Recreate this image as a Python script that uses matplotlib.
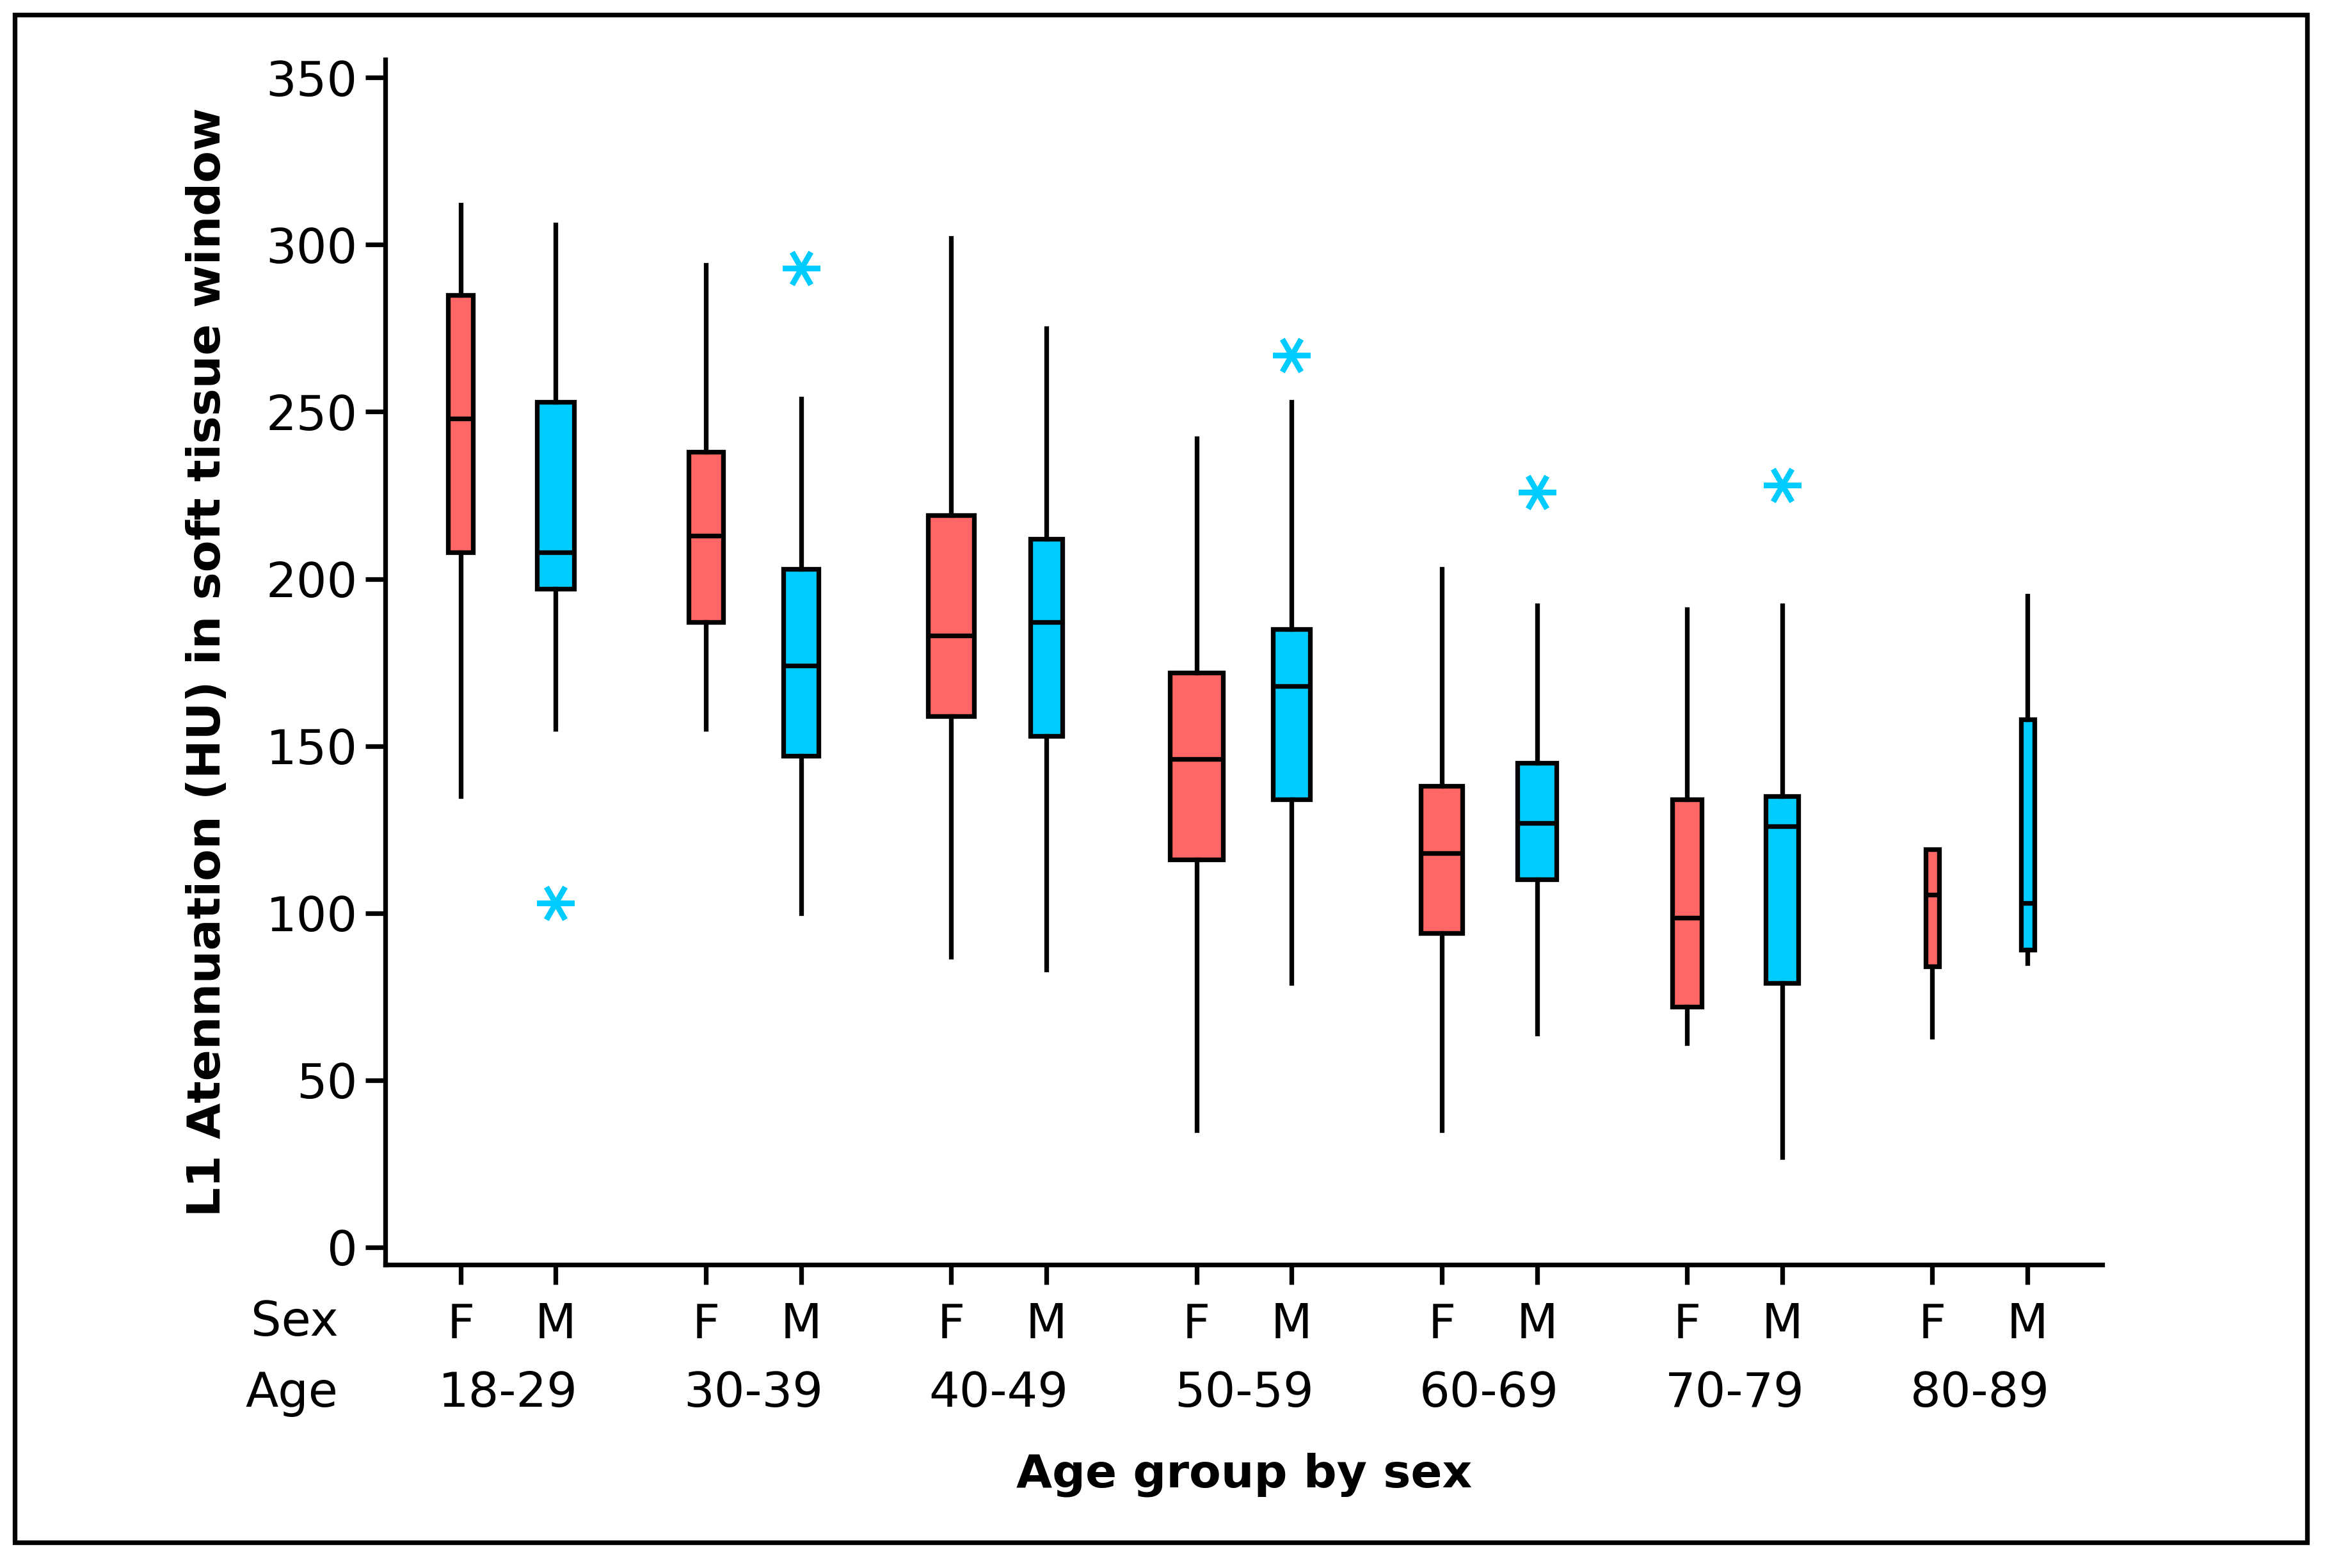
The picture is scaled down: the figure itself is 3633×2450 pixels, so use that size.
import matplotlib.pyplot as plt
from matplotlib.patches import Rectangle
import matplotlib.transforms as mtransforms

# Dados (ordem: F, M em cada faixa etária)
idades = ['18-29', '30-39', '40-49', '50-59', '60-69', '70-79', '80-89']
sexos = ['F', 'M']
bigode_sup = [312, 306, 294, 254, 302, 275, 242, 253, 203, 192, 191, 192, 119, 195]
q3 = [285, 253, 238, 203, 219, 212, 172, 185, 138, 145, 134, 135, 119, 158]
mediana = [248, 208, 213, 174, 183, 187, 146, 168, 118, 127, 98.5, 126, 105.5, 103]
q1 = [208, 197, 187, 147, 159, 153, 116, 134, 94, 110, 72, 79, 84, 89]
bigode_inf = [135, 155, 155, 100, 87, 83, 35, 79, 35, 64, 61, 27, 63, 85]
outliers = [[], [103], [], [293], [], [], [], [267], [], [226], [], [228], [], []]
# largura das caixas (proporcional ao tamanho da amostra)
larguras = [0.103, 0.151, 0.139, 0.145, 0.188, 0.133, 0.218, 0.151, 0.169, 0.157, 0.121, 0.133, 0.054, 0.054]

cores = {'F': '#FF6666', 'M': '#00CCFF'}
fonte = 'DejaVu Sans'
tam = 18
tam_titulo = 17.4

plt.rcParams['font.family'] = fonte

W, H = 1568, 1057.4  # escala de referência usada nas medidas
fig = plt.figure(figsize=(3633 / 300, 2450 / 300), dpi=300)
ax = fig.add_axes([260 / W, 1 - 853 / H, (1418 - 260) / W, (853 - 40) / H])

posicoes = []
rotulos = []
for g in range(len(idades)):
    for s, desl in zip(sexos, [-0.194, 0.194]):
        posicoes.append(g + desl)
        rotulos.append(s)

stats = []
for i in range(len(posicoes)):
    stats.append({'med': mediana[i], 'q1': q1[i], 'q3': q3[i],
                  'whislo': bigode_inf[i], 'whishi': bigode_sup[i],
                  'fliers': outliers[i]})

lw = 1.75
bp = ax.bxp(stats, positions=posicoes, widths=larguras, patch_artist=True,
            showcaps=False,
            boxprops=dict(linewidth=lw, edgecolor='black'),
            medianprops=dict(color='black', linewidth=lw),
            whiskerprops=dict(color='black', linewidth=lw),
            flierprops=dict(marker=(6, 2, 90), markersize=14, markeredgewidth=2.0,
                            markeredgecolor=cores['M'], linestyle='none'))

for caixa, s in zip(bp['boxes'], rotulos):
    caixa.set_facecolor(cores[s])
for fl, s in zip(bp['fliers'], rotulos):
    fl.set_markeredgecolor(cores[s])

ax.set_xlim(-0.5, 6.5)
ax.set_ylim(-5.3, 355.5)
ax.set_yticks(range(0, 351, 50))
ax.set_xticks(posicoes)
ax.set_xticklabels(rotulos)

ax.spines['top'].set_visible(False)
ax.spines['right'].set_visible(False)
for lado in ['left', 'bottom']:
    ax.spines[lado].set_linewidth(lw)

ax.tick_params(axis='y', direction='out', length=7.5, width=lw, labelsize=tam, pad=3)
ax.tick_params(axis='x', direction='out', length=7.5, width=lw, labelsize=tam, pad=6.3)

trans = mtransforms.blended_transform_factory(ax.transData, ax.transAxes)
for g, idade in enumerate(idades):
    ax.text(g, -0.107, idade, transform=trans, ha='center', va='center', fontsize=tam)

ax.text(-0.0276, -0.048, 'Sex', transform=ax.transAxes, ha='right', va='center', fontsize=tam)
ax.text(-0.0276, -0.107, 'Age', transform=ax.transAxes, ha='right', va='center', fontsize=tam)

ax.text(0.5, -0.174, 'Age group by sex', transform=ax.transAxes, ha='center', va='center',
        fontsize=tam_titulo, fontweight='bold')
ax.text(-0.1036, 0.5, 'L1 Atennuation (HU) in soft tissue window', transform=ax.transAxes,
        ha='center', va='center', rotation=90, fontsize=tam_titulo, fontweight='bold')

# moldura em volta da figura
fig.patches.append(Rectangle((10 / W, 1 - 1040 / H), (1556 - 10) / W, (1040 - 10) / H,
                             transform=fig.transFigure, fill=False, edgecolor='black', linewidth=lw))

fig.savefig('out.png', dpi=300)
